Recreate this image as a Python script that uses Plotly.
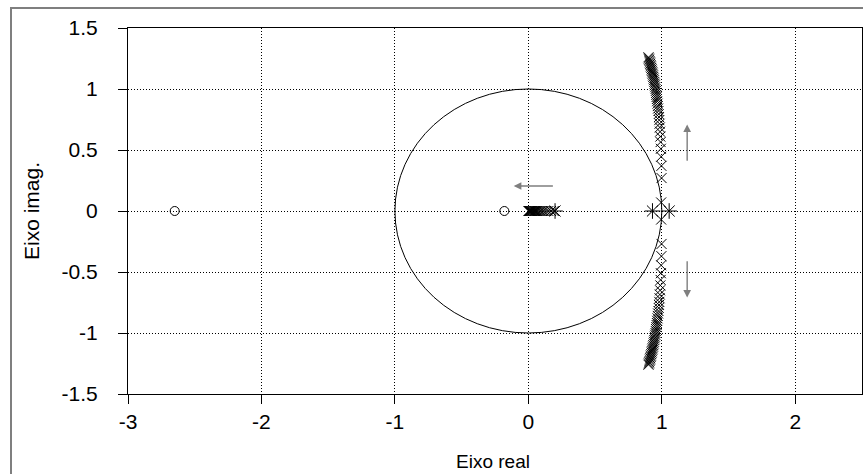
import plotly.graph_objects as go

# --- data ---
zeros_re = [-2.65, -0.18]
zeros_im = [0.0, 0.0]

poles_re = [0.2, 0.93, 1.055]
poles_im = [0.0, 0.0, 0.0]

# upper complex branch (closed-loop poles, 'x')
branch_im = [0.07, 0.27, 0.37, 0.445, 0.51, 0.565, 0.61, 0.65, 0.685, 0.715, 0.745, 0.77,
             0.795, 0.82, 0.84, 0.86, 0.88, 0.90, 0.918, 0.935, 0.952, 0.968,
             0.984, 1.0, 1.015, 1.03, 1.044, 1.058, 1.072, 1.086, 1.099, 1.112,
             1.125, 1.137, 1.149, 1.161, 1.173, 1.185, 1.196, 1.207, 1.218,
             1.229, 1.24, 1.25, 1.26]
branch_re = [0.995, 0.998, 0.997, 0.995, 0.993, 0.991, 0.989, 0.987, 0.985, 0.983, 0.981, 0.979,
             0.977, 0.975, 0.972, 0.970, 0.968, 0.965, 0.963, 0.961, 0.959, 0.957,
             0.955, 0.953, 0.951, 0.948, 0.946, 0.944, 0.941, 0.939, 0.936, 0.934,
             0.931, 0.929, 0.926, 0.924, 0.921, 0.918, 0.916, 0.913, 0.911,
             0.908, 0.905, 0.903, 0.900]

# real-axis branch ('x')
real_branch = [0.19, 0.17, 0.15, 0.135, 0.12, 0.108, 0.096, 0.085, 0.075, 0.066,
               0.058, 0.05, 0.043, 0.037, 0.031, 0.026, 0.021, 0.017, 0.013,
               0.01, 0.007, 0.005, 0.003, 0.001]

# arrows: (tail_x, tail_y, head_x, head_y)
arrows = [(1.19, 0.40, 1.19, 0.71),
          (1.19, -0.40, 1.19, -0.71),
          (0.195, 0.205, -0.11, 0.205)]

xticks = [-3, -2, -1, 0, 1, 2]
yticks = [-1.5, -1, -0.5, 0, 0.5, 1, 1.5]

FONT = "Liberation Sans"

fig = go.Figure()

# unit circle via a shape in data coordinates
fig.add_shape(type="circle", xref="x", yref="y", x0=-1, y0=-1, x1=1, y1=1,
              line=dict(color="black", width=1), layer="above")

xmark = dict(symbol="x-thin-open", size=10, color="black", line=dict(color="black", width=1))

fig.add_trace(go.Scatter(x=branch_re, y=branch_im, mode="markers", marker=xmark,
                         showlegend=False))
fig.add_trace(go.Scatter(x=branch_re, y=[-v for v in branch_im], mode="markers",
                         marker=xmark, showlegend=False))
fig.add_trace(go.Scatter(x=real_branch, y=[0.0] * len(real_branch), mode="markers",
                         marker=xmark, showlegend=False))
fig.add_trace(go.Scatter(x=poles_re, y=poles_im, mode="markers",
                         marker=dict(symbol="asterisk-open", size=13, color="black",
                                     line=dict(color="black", width=1)),
                         showlegend=False))
fig.add_trace(go.Scatter(x=zeros_re, y=zeros_im, mode="markers",
                         marker=dict(symbol="circle-open", size=9, color="black",
                                     line=dict(color="black", width=1)),
                         showlegend=False))

for tx, ty, hx, hy in arrows:
    fig.add_annotation(x=hx, y=hy, ax=tx, ay=ty, xref="x", yref="y", axref="x", ayref="y",
                       text="", showarrow=True, arrowhead=2, arrowsize=1.1,
                       arrowwidth=1.4, arrowcolor="#7f7f7f")

# outer grey frame
fig.add_shape(type="rect", xref="paper", yref="paper",
              x0=-117 / 734, x1=1.1, y0=-0.3, y1=1 + 20 / 366,
              line=dict(color="#7f7f7f", width=2), layer="below")

# axis titles
fig.add_annotation(text="Eixo real", xref="paper", yref="paper", x=0.497, y=(394 - 461) / 366,
                   showarrow=False, xanchor="center", yanchor="middle",
                   font=dict(family=FONT, size=19, color="black"))
fig.add_annotation(text="Eixo imag.", xref="paper", yref="paper", x=(31 - 128) / 734, y=0.5,
                   showarrow=False, xanchor="center", yanchor="middle", textangle=-90,
                   font=dict(family=FONT, size=21, color="black"))

axis_common = dict(showline=True, linecolor="black", linewidth=1, mirror=True,
                   ticks="outside", ticklen=9, tickcolor="black", tickwidth=1,
                   showgrid=True, gridcolor="black", gridwidth=1, griddash="1px,2px",
                   zeroline=False, tickfont=dict(family=FONT, size=21, color="black"))

fig.update_xaxes(range=[-3, 2.5], tickvals=xticks, ticktext=[str(v) for v in xticks],
                 **axis_common)
fig.update_yaxes(range=[-1.5, 1.5], tickvals=yticks, ticktext=[("%g" % v) for v in yticks],
                 ticklabelstandoff=16,
                 **axis_common)

fig.update_layout(width=863, height=474, margin=dict(l=128, r=1, t=28, b=80),
                  paper_bgcolor="white", plot_bgcolor="white", showlegend=False)

fig.write_html("out.html")
